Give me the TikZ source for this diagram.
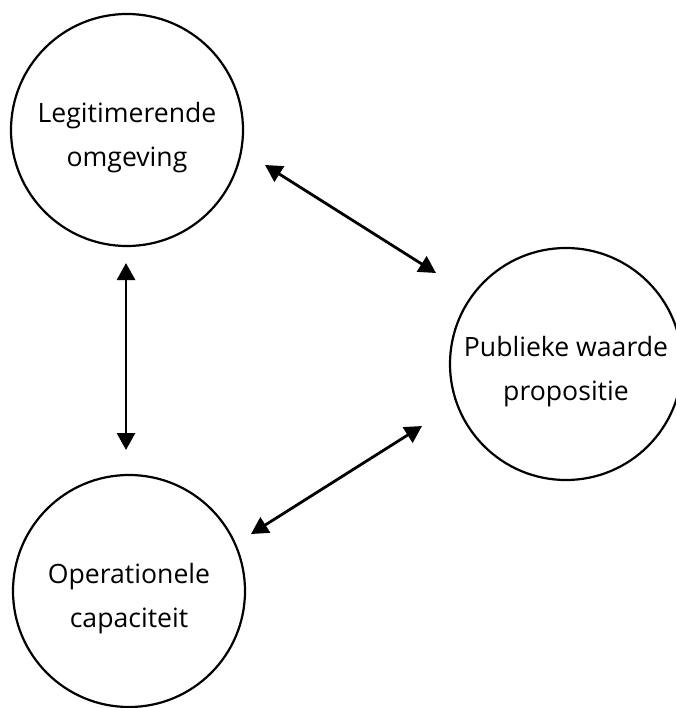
\documentclass[tikz,border=0pt]{standalone}
\usepackage{fontspec}
\setmainfont{Open Sans}
\usetikzlibrary{arrows.meta}
\tikzset{bol/.style={circle, draw, line width=2.2pt, minimum size=232pt, inner sep=0pt}}
\tikzset{tekst/.style={align=center, inner sep=0pt, font=\fontsize{26.6}{44}\selectfont}}
\tikzset{pijl/.style={line width=2.8pt,
      {Triangle[width=18pt,length=17pt]}-{Triangle[width=18pt,length=17pt]}}}

\begin{document}
\begin{tikzpicture}[x=1pt, y=1pt]
		\useasboundingbox (0,0) rectangle (675,-708);
		\node[bol] (lo) at (127,-130) {};
		\node[bol] (pw) at (566,-364) {};
		\node[bol] (oc) at (129,-591) {};
		\node[tekst] (lo-tekst) at ([yshift=-8]lo.center) {Legitimerende\\omgeving};
		\node[tekst] (pw-tekst) at ([yshift=-8]pw.center) {Publieke waarde\\propositie};
		\node[tekst] (oc-tekst) at ([yshift=-8]oc.center) {Operationele\\capaciteit};
		\draw[pijl] ([shift={(138,-35)}]lo.center) -- ([shift={(-130,91)}]pw.center);
		\draw[pijl] ([shift={(-1,-133)}]lo.center) -- ([shift={(-3,141)}]oc.center);
		\draw[pijl] ([shift={(122,57)}]oc.center) -- ([shift={(-144,-62)}]pw.center);
\end{tikzpicture}
\end{document}
